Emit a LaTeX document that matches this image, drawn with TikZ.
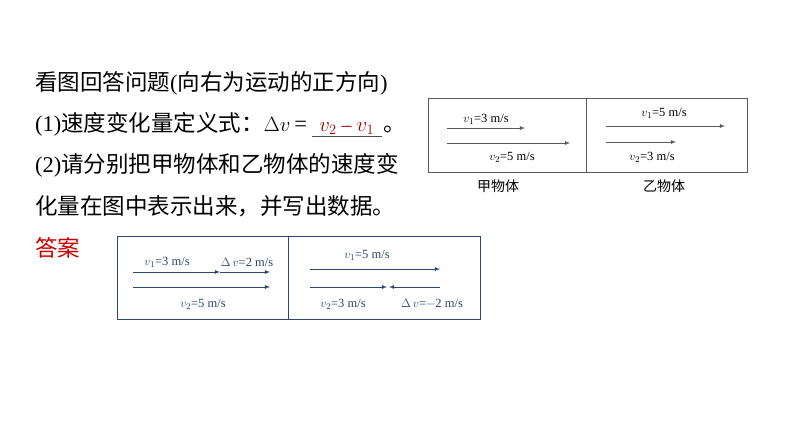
\documentclass[tikz,border=0pt]{standalone}
\usepackage{fontspec}
\setmainfont{Liberation Serif}
\newfontfamily\cjk{Noto Sans CJK SC}
\definecolor{bb}{RGB}{45,70,110}
\begin{document}
\begin{tikzpicture}[x=1pt,y=-1pt,
  big/.style={anchor=base west,inner sep=0pt,font=\fontsize{22.5}{26}\selectfont},
  sm/.style={inner sep=0pt,font=\fontsize{12.5}{15}\selectfont},
  gar/.style={draw=black!65,-latex,line width=0.8pt},
  bar/.style={draw=bb,-latex,line width=0.8pt}]
\useasboundingbox[fill=white] (0,0) rectangle (794,447);
\node[big] (l1) at (35,90) {\cjk 看图回答问题\rmfamily(\cjk 向右为运动的正方向\rmfamily)};
\node[big] (l2) at (35,131) {(1)\cjk 速度变化量定义式：\rmfamily$\Delta v$\,=};
\node[big,anchor=base west,text=red!60!black,font=\fontsize{20}{24}\selectfont] (f) at ([xshift=12pt]l2.base east) {$v_2$ \textendash\ $v_1$};
\coordinate (u1) at ([xshift=5pt,yshift=-5pt]l2.base east);
\coordinate (u2) at ([xshift=8pt,yshift=-5pt]f.base east);
\draw[black!70,line width=0.6pt] (u1) -- (u2);
\node[big] (dot) at ([xshift=9pt]f.base east) {\cjk 。};
\node[big] (l3) at (35,172) {(2)\cjk 请分别把甲物体和乙物体的速度变};
\node[big] (l4) at (35,214) {\cjk 化量在图中表示出来，并写出数据。};
\node[big,text=red!80!black] (ans) at (35,256) {\cjk 答案};
% top diagram
\draw[black!65,line width=0.8pt] (428,98) rectangle (747,172);
\draw[black!65,line width=0.8pt] (586,98) -- (586,172);
\node[sm] (a1) at (486,119) {$v_1$=3 m/s};
\node[sm] (a2) at (512,157) {$v_2$=5 m/s};
\coordinate (a3) at (447,128); \coordinate (a4) at (525,128);
\coordinate (a5) at (447,143); \coordinate (a6) at (570,143);
\draw[gar] (a3) -- (a4); \draw[gar] (a5) -- (a6);
\node[sm] (b1) at (664,113) {$v_1$=5 m/s};
\node[sm] (b2) at (652,157) {$v_2$=3 m/s};
\coordinate (b3) at (606,126); \coordinate (b4) at (725,126);
\coordinate (b5) at (606,142); \coordinate (b6) at (676,142);
\draw[gar] (b3) -- (b4); \draw[gar] (b5) -- (b6);
\node[font=\cjk\fontsize{14}{16}\selectfont] (j) at (498,186) {甲物体};
\node[font=\cjk\fontsize{14}{16}\selectfont] (y) at (664,186) {乙物体};
% bottom diagram
\begin{scope}[text=bb]
\draw[bb,line width=0.9pt] (117,236) rectangle (480,319);
\draw[bb,line width=0.9pt] (288,236) -- (288,319);
\node[sm] (c1) at (167,262) {$v_1$=3 m/s};
\node[sm] (c2) at (247,262) {$\Delta\, v$=2 m/s};
\node[sm] (c3) at (203,304) {$v_2$=5 m/s};
\coordinate (c4) at (133,272); \coordinate (c5) at (220,272); \coordinate (c6) at (270,272);
\coordinate (c7) at (133,287); \coordinate (c8) at (270,287);
\draw[bar] (c4) -- (c5); \draw[bar] (c5) -- (c6); \draw[bar] (c7) -- (c8);
\node[sm] (d1) at (367,255) {$v_1$=5 m/s};
\node[sm] (d2) at (343,304) {$v_2$=3 m/s};
\node[sm] (d3) at (432,304) {$\Delta\, v$=$-$2 m/s};
\coordinate (d4) at (310,269); \coordinate (d5) at (440,269);
\coordinate (d6) at (310,287); \coordinate (d7) at (387,287);
\coordinate (d8) at (440,287); \coordinate (d9) at (389,287);
\draw[bar] (d4) -- (d5); \draw[bar] (d6) -- (d7); \draw[bar] (d8) -- (d9);
\end{scope}
\end{tikzpicture}
\end{document}
